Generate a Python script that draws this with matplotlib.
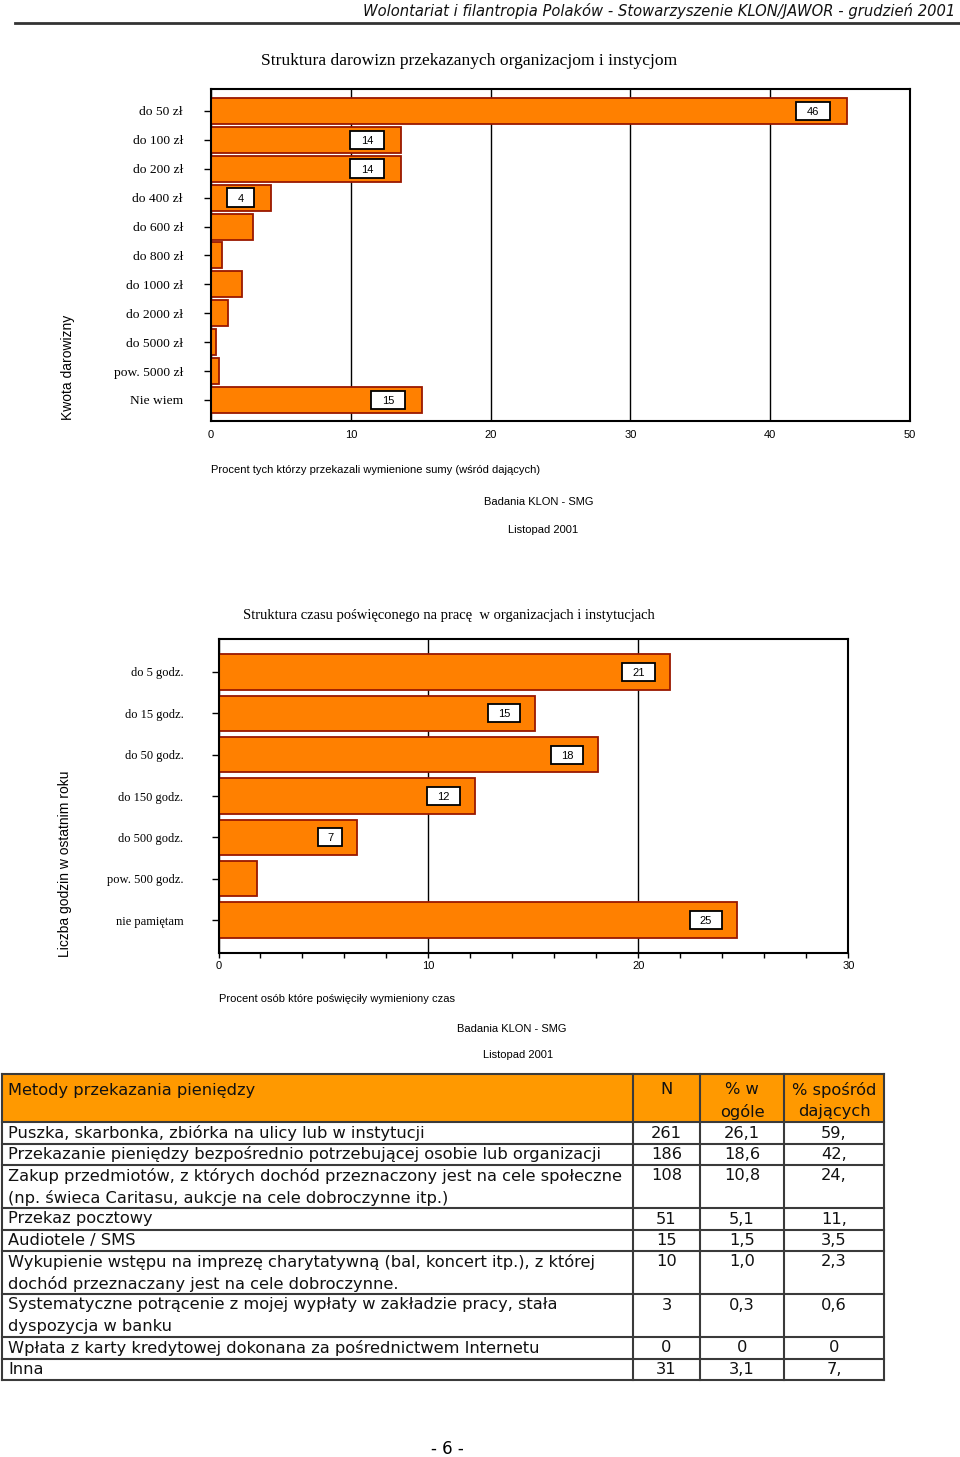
import matplotlib
matplotlib.use('Agg')
import matplotlib.pyplot as plt
import matplotlib.transforms as mtransforms
from matplotlib.patches import Rectangle
from matplotlib.ticker import MultipleLocator

# ---------------- data ----------------
don_cats = ['do 50 zł', 'do 100 zł', 'do 200 zł', 'do 400 zł', 'do 600 zł', 'do 800 zł',
            'do 1000 zł', 'do 2000 zł', 'do 5000 zł', 'pow. 5000 zł', 'Nie wiem']
don_vals = [45.5, 13.6, 13.6, 4.3, 3.0, 0.8, 2.2, 1.2, 0.35, 0.55, 15.1]
don_labels = ['46', '14', '14', '4', '', '', '', '', '', '', '15']

time_cats = ['do 5 godz.', 'do 15 godz.', 'do 50 godz.', 'do 150 godz.', 'do 500 godz.',
             'pow. 500 godz.', 'nie pamiętam']
time_vals = [21.5, 15.1, 18.1, 12.2, 6.6, 1.85, 24.7]
time_labels = ['21', '15', '18', '12', '7', '', '25']

don_xticks = [0, 10, 20, 30, 40, 50]
time_xticks = [0, 10, 20, 30]

table_header = ['Metody przekazania pieniędzy', 'N', '% w\nogóle', '% spośród\ndających']
methods = [
    'Puszka, skarbonka, zbiórka na ulicy lub w instytucji',
    'Przekazanie pieniędzy bezpośrednio potrzebującej osobie lub organizacji',
    'Zakup przedmiotów, z których dochód przeznaczony jest na cele społeczne\n(np. świeca Caritasu, aukcje na cele dobroczynne itp.)',
    'Przekaz pocztowy',
    'Audiotele / SMS',
    'Wykupienie wstępu na imprezę charytatywną (bal, koncert itp.), z której\ndochód przeznaczany jest na cele dobroczynne.',
    'Systematyczne potrącenie z mojej wypłaty w zakładzie pracy, stała\ndyspozycja w banku',
    'Wpłata z karty kredytowej dokonana za pośrednictwem Internetu',
    'Inna',
]
n_vals = ['261', '186', '108', '51', '15', '10', '3', '0', '31']
pct_all = ['26,1', '18,6', '10,8', '5,1', '1,5', '1,0', '0,3', '0', '3,1']
pct_giv = ['59,', '42,', '24,', '11,', '3,5', '2,3', '0,6', '0', '7,']

# ---------------- style ----------------
W, H = 960, 1457
BAR = '#FF8000'
EDGE = '#9A1800'
SANS = 'Liberation Sans'
SERIF = 'Liberation Serif'
TFONT = 'DejaVu Sans'

fig = plt.figure(figsize=(W / 100, H / 100), dpi=100)

ov = fig.add_axes([0, 0, 1, 1])
ov.set_xlim(0, W)
ov.set_ylim(H, 0)
ov.axis('off')


def make_ax(left, top, right, bottom):
    return fig.add_axes([left / W, 1 - bottom / H, (right - left) / W, (bottom - top) / H])


def value_box(ax, x, y, txt, w, h, gap, fs):
    anchor = mtransforms.ScaledTranslation(x, y, ax.transData)
    tr = mtransforms.Affine2D().translate(-gap - w, -h / 2) + anchor
    r = Rectangle((0, 0), w, h, transform=tr, facecolor='white', edgecolor='black',
                  linewidth=1.3, zorder=5, clip_on=False)
    ax.add_artist(r)
    ax.annotate(txt, xy=(x, y), xytext=(-(gap + w / 2) * 0.72, 0), textcoords='offset points',
                ha='center', va='center_baseline', fontsize=fs, family=SANS, zorder=6)


def style_chart(ax, cats, ylab_fs, ypad):
    for s in ax.spines.values():
        s.set_color('black')
        s.set_linewidth(1.5)
    ax.set_yticks(range(len(cats)))
    ax.set_yticklabels(cats, family=SERIF, fontsize=ylab_fs)
    ax.tick_params(axis='y', length=5, width=1, direction='out', pad=ypad)
    ax.xaxis.grid(True, color='black', linewidth=1)
    ax.set_axisbelow(True)


# ---------- chart 1 ----------
ax1 = make_ax(211, 89, 910, 420.7)
ypos1 = list(range(len(don_cats)))
ax1.barh(ypos1, don_vals, height=0.9, color=BAR, edgecolor=EDGE, linewidth=1.3, zorder=2)
ax1.set_xlim(0, 50)
ax1.set_ylim(10.72, -0.76)
ax1.set_xticks(don_xticks)
ax1.set_xticklabels([str(t) for t in don_xticks])
style_chart(ax1, don_cats, 9.7, 15.2)
ax1.tick_params(axis='x', length=0, pad=6.5, labelsize=8)
for lab in ax1.get_xticklabels():
    lab.set_family(SANS)
for yv, v, t in zip(ypos1, don_vals, don_labels):
    if t:
        value_box(ax1, v, yv, t, 27 if len(t) == 1 else 34.5, 18.5, 17, 8)

# ---------- chart 2 ----------
ax2 = make_ax(218.5, 639.3, 848.3, 952.7)
ypos2 = list(range(len(time_cats)))
ax2.barh(ypos2, time_vals, height=0.85, color=BAR, edgecolor=EDGE, linewidth=1.3, zorder=2)
ax2.set_xlim(0, 30)
ax2.set_ylim(6.79, -0.79)
ax2.set_xticks(time_xticks)
ax2.set_xticklabels([str(t) for t in time_xticks])
ax2.xaxis.set_minor_locator(MultipleLocator(2))
style_chart(ax2, time_cats, 9, 20.2)
ax2.tick_params(axis='x', which='both', length=3.5, width=1, direction='out', pad=2.5, labelsize=8)
for lab in ax2.get_xticklabels():
    lab.set_family(SANS)
for yv, v, t in zip(ypos2, time_vals, time_labels):
    if t:
        value_box(ax2, v, yv, t, 24 if len(t) == 1 else 32.5, 18, 15, 8)

# ---------- page texts ----------
ov.text(955, 11, 'Wolontariat i filantropia Polaków - Stowarzyszenie KLON/JAWOR - grudzień 2001',
        ha='right', va='center', fontsize=10.6, style='italic', family=TFONT, color='#111111')
ov.plot([15, 960], [23, 23], color='#333333', linewidth=2)

ov.text(469, 61, 'Struktura darowizn przekazanych organizacjom i instycjom', ha='center', va='center',
        fontsize=12.6, family=SERIF)
ov.text(68, 367, 'Kwota darowizny', rotation=90, ha='center', va='center', fontsize=10, family=SANS)
ov.text(211, 470, 'Procent tych którzy przekazali wymienione sumy (wśród dających)', ha='left',
        va='center', fontsize=8, family=SANS)
ov.text(539, 502, 'Badania KLON - SMG', ha='center', va='center', fontsize=8, family=SANS)
ov.text(543, 530, 'Listopad 2001', ha='center', va='center', fontsize=8, family=SANS)

ov.text(449, 615, 'Struktura czasu poświęconego na pracę  w organizacjach i instytucjach', ha='center',
        va='center', fontsize=10.5, family=SERIF)
ov.text(65, 864, 'Liczba godzin w ostatnim roku', rotation=90, ha='center', va='center', fontsize=10,
        family=SANS)
ov.text(219, 999, 'Procent osób które poświęciły wymieniony czas', ha='left', va='center', fontsize=8,
        family=SANS)
ov.text(512, 1029, 'Badania KLON - SMG', ha='center', va='center', fontsize=8, family=SANS)
ov.text(518, 1055, 'Listopad 2001', ha='center', va='center', fontsize=8, family=SANS)

ov.text(447, 1449, '- 6 -', ha='center', va='center', fontsize=12, family=TFONT)

# ---------- table ----------
col_x = [2, 633, 700, 784, 884]
top = 1074
head_h = 48
line_h = 21.5
LC = '#3a3a3a'
TFS = 11.7

row_tops = [top + head_h]
for m in methods:
    row_tops.append(row_tops[-1] + line_h * (m.count('\n') + 1))
bottom = row_tops[-1]

ov.add_patch(Rectangle((col_x[0], top), col_x[-1] - col_x[0], head_h, facecolor='#FF9900',
                       edgecolor='none', zorder=1))
for yv in [top] + row_tops:
    ov.plot([col_x[0], col_x[-1]], [yv, yv], color=LC, linewidth=1.5, zorder=3)
for xv in col_x:
    ov.plot([xv, xv], [top, bottom], color=LC, linewidth=1.5, zorder=3)


def cell_text(x, ytop, txt, ha):
    for k, line in enumerate(txt.split('\n')):
        ov.text(x, ytop + k * line_h, line, ha=ha, va='center', fontsize=TFS, family=TFONT,
                color='#111111', zorder=4)


cell_text(col_x[0] + 6, top + 16, table_header[0], 'left')
for j in range(1, 4):
    cell_text((col_x[j] + col_x[j + 1]) / 2, top + 16, table_header[j], 'center')

for i, m in enumerate(methods):
    yt = row_tops[i] + 11
    cell_text(col_x[0] + 6, yt, m, 'left')
    cell_text((col_x[1] + col_x[2]) / 2, yt, n_vals[i], 'center')
    cell_text((col_x[2] + col_x[3]) / 2, yt, pct_all[i], 'center')
    cell_text((col_x[3] + col_x[4]) / 2, yt, pct_giv[i], 'center')

fig.savefig('out.png', dpi=100)
